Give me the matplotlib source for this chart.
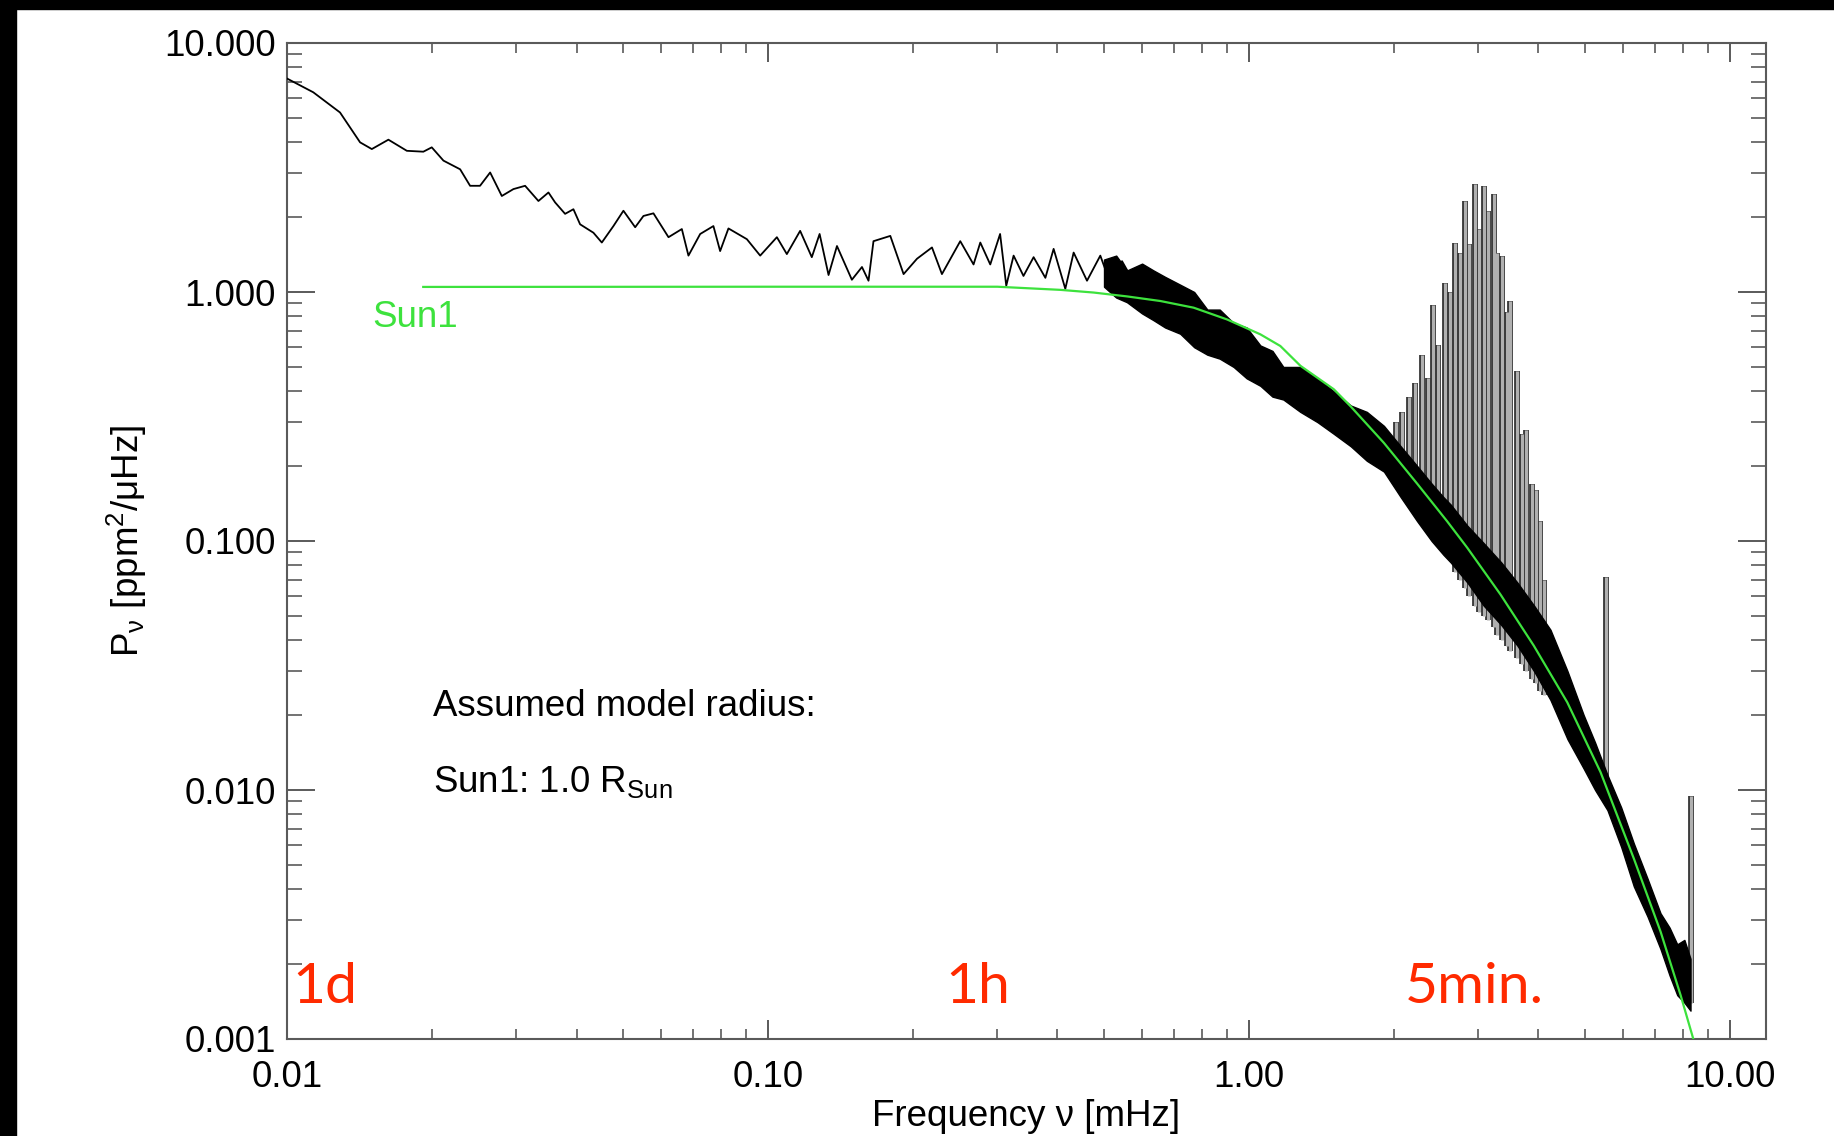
import matplotlib
matplotlib.use("Agg")
import matplotlib.pyplot as plt
from matplotlib.patches import Rectangle
from matplotlib.ticker import FormatStrFormatter, LogLocator, NullFormatter

# fonts
plt.rcParams['font.family'] = ['Liberation Sans', 'DejaVu Sans']
plt.rcParams['mathtext.fontset'] = 'custom'
plt.rcParams['mathtext.rm'] = 'Liberation Sans'
plt.rcParams['mathtext.it'] = 'Liberation Sans'

# Data (frequency in mHz, power in ppm^2/uHz)

# low-frequency part, single noisy line
line_f = [0.0100, 0.01014, 0.01134, 0.01289, 0.01419, 0.01501, 0.01625, 0.01775,
          0.01921, 0.02000, 0.02115, 0.02291, 0.02403, 0.02520, 0.02645, 0.02797,
          0.02957, 0.03127, 0.03333, 0.03497, 0.03610, 0.03787, 0.03941, 0.04069,
          0.04337, 0.04515, 0.04773, 0.05007, 0.05297, 0.05511, 0.05781, 0.06213,
          0.06623, 0.06836, 0.07231, 0.07704, 0.07956, 0.08279, 0.09042, 0.09638,
          0.1044, 0.1095, 0.1167, 0.1234, 0.1281, 0.1337, 0.1392, 0.1495,
          0.1569, 0.1619, 0.1658, 0.1797, 0.1915, 0.2042, 0.2194, 0.2301,
          0.2512, 0.2677, 0.2765, 0.2900, 0.3040, 0.3131, 0.3243, 0.3400,
          0.3569, 0.3776, 0.3928, 0.4154, 0.4323, 0.4609, 0.4912, 0.5236, 0.5450,
          0.5672, 0.595, 0.6234]
line_p = [7.2, 7.1, 6.34, 5.26, 3.99, 3.75, 4.09, 3.69,
          3.66, 3.81, 3.37, 3.11, 2.67, 2.67, 3.02, 2.43,
          2.59, 2.67, 2.32, 2.51, 2.29, 2.06, 2.15, 1.87,
          1.73, 1.58, 1.84, 2.12, 1.82, 2.02, 2.07, 1.66,
          1.79, 1.40, 1.71, 1.84, 1.46, 1.80, 1.63, 1.40,
          1.66, 1.42, 1.76, 1.38, 1.71, 1.17, 1.53, 1.12,
          1.26, 1.11, 1.60, 1.68, 1.18, 1.36, 1.51, 1.18,
          1.60, 1.29, 1.58, 1.29, 1.71, 1.06, 1.40, 1.16,
          1.38, 1.14, 1.49, 1.03, 1.44, 1.11, 1.40, 0.995, 1.33,
          1.16, 1.06, 1.22]

# high-frequency part, dense band (upper / lower envelope)
band_f = [0.50, 0.53, 0.558, 0.60, 0.634, 0.67, 0.72, 0.77, 0.82, 0.87, 0.93, 0.99,
          1.057, 1.12, 1.18, 1.28, 1.39, 1.50, 1.63, 1.76, 1.91, 2.07, 2.24, 2.40,
          2.54, 2.63, 2.85, 3.08, 3.35, 3.62, 3.92, 4.24, 4.60, 4.97, 5.25, 5.57,
          5.95, 6.32, 6.75, 7.18, 7.50, 7.78, 8.05, 8.29]
band_hi = [1.35, 1.40, 1.22, 1.30, 1.22, 1.15, 1.07, 1.00, 0.85, 0.85, 0.75, 0.72,
           0.61, 0.58, 0.50, 0.50, 0.45, 0.40, 0.35, 0.33, 0.29, 0.24, 0.20, 0.17,
           0.15, 0.14, 0.115, 0.098, 0.082, 0.068, 0.055, 0.044, 0.030, 0.020, 0.0155, 0.0115,
           0.0085, 0.0061, 0.0044, 0.0032, 0.0028, 0.0024, 0.0025, 0.0021]
band_lo = [1.05, 0.95, 0.91, 0.82, 0.77, 0.72, 0.68, 0.60, 0.56, 0.54, 0.50, 0.45,
           0.42, 0.38, 0.37, 0.33, 0.30, 0.27, 0.24, 0.21, 0.19, 0.15, 0.12, 0.10,
           0.088, 0.082, 0.068, 0.055, 0.046, 0.038, 0.030, 0.023, 0.016, 0.0122, 0.0100, 0.0083,
           0.0059, 0.0041, 0.0031, 0.0023, 0.0018, 0.0015, 0.0014, 0.0013]

# p-mode peaks and the two spikes
peak_f = [1.95, 2.02, 2.08, 2.15, 2.22, 2.29, 2.36, 2.42, 2.48, 2.56, 2.62, 2.69,
          2.75, 2.82, 2.87, 2.96, 3.01, 3.09, 3.14, 3.23, 3.29, 3.36, 3.45, 3.50,
          3.62, 3.70, 3.78, 3.89, 3.95, 4.04, 4.11, 5.54, 8.29]
peak_top = [0.26, 0.30, 0.33, 0.38, 0.43, 0.56, 0.45, 0.89, 0.61, 1.09, 1.00, 1.58,
            1.44, 2.32, 1.56, 2.71, 1.79, 2.67, 2.12, 2.47, 1.44, 1.40, 0.83, 0.92,
            0.48, 0.27, 0.28, 0.17, 0.16, 0.12, 0.07, 0.072, 0.0095]
peak_base = [0.20, 0.19, 0.18, 0.16, 0.14, 0.13, 0.12, 0.11, 0.10, 0.09, 0.085, 0.075,
             0.07, 0.065, 0.06, 0.055, 0.052, 0.05, 0.048, 0.045, 0.042, 0.04, 0.038, 0.036,
             0.034, 0.032, 0.03, 0.028, 0.027, 0.025, 0.024, 0.0095, 0.0014]

# model Sun1
model_f = [0.0192, 0.1, 0.3, 0.4056, 0.4757, 0.5583, 0.655, 0.768, 0.901, 1.057, 1.163,
           1.281, 1.502, 1.627, 1.909, 2.239, 2.585, 2.846, 3.337, 3.914, 4.595, 5.388,
           6.321, 7.183, 7.906, 8.428, 8.55]
model_p = [1.048, 1.05, 1.05, 1.02, 0.995, 0.96, 0.92, 0.865, 0.776, 0.676, 0.607,
           0.505, 0.407, 0.348, 0.248, 0.170, 0.120, 0.094, 0.061, 0.038, 0.0225, 0.0118,
           0.0053, 0.0027, 0.0015, 0.00098, 0.00092]

yticks = [0.001, 0.01, 0.1, 1, 10]
xticks = [0.01, 0.1, 1, 10]

green = "#3de23d"
red = "#ff2a00"
axcol = "#5a5a5a"

# Figure
fig = plt.figure(figsize=(18.34, 11.36), dpi=100)
fig.patch.set_facecolor("white")
ax = fig.add_axes([287/1834, 97/1136, 1479/1834, 996/1136])

ax.vlines(peak_f, peak_base, peak_top, colors="#3a3a3a", linewidth=4.2, zorder=2)
ax.vlines(peak_f, peak_base, peak_top, colors="#b0b0b0", linewidth=2.2, zorder=2)
ax.fill_between(band_f, band_lo, band_hi, color="black", linewidth=1.0, zorder=3)
ax.plot(line_f, line_p, color="black", linewidth=1.3, zorder=3)
ax.plot(model_f, model_p, color=green, linewidth=1.6, zorder=4)

ax.set_xscale("log")
ax.set_yscale("log")
ax.set_xlim(0.01, 11.9)
ax.set_ylim(0.001, 10)

ax.set_xticks(xticks)
ax.set_yticks(yticks)
ax.xaxis.set_major_formatter(FormatStrFormatter("%.2f"))
ax.yaxis.set_major_formatter(FormatStrFormatter("%.3f"))
ax.xaxis.set_minor_locator(LogLocator(base=10, subs=range(2, 10)))
ax.yaxis.set_minor_locator(LogLocator(base=10, subs=range(2, 10)))
ax.xaxis.set_minor_formatter(NullFormatter())
ax.yaxis.set_minor_formatter(NullFormatter())

ax.tick_params(which="both", direction="in", top=True, right=True, color=axcol, labelsize=26.5)
ax.tick_params(axis="y", which="major", length=20, width=1.4, pad=8)
ax.tick_params(axis="y", which="minor", length=11, width=1.2)
ax.tick_params(axis="x", which="major", length=14, width=1.4, pad=15)
ax.tick_params(axis="x", which="minor", length=7.5, width=1.2)
for s in ax.spines.values():
    s.set_color(axcol)
    s.set_linewidth(1.5)

ax.set_xlabel("Frequency ν [mHz]", fontsize=26.5)
ax.set_ylabel(r"P$_\mathrm{\nu}$ [ppm$^2$/μHz]", fontsize=26.5)
ax.xaxis.set_label_coords(0.5, -0.06)
ax.yaxis.set_label_coords(-0.093, 0.5)

# annotations
ax.text(0.01503, 0.79, "Sun1", color=green, fontsize=26.5, va="center", ha="left")
ax.text(0.0201, 0.0198, "Assumed model radius:", fontsize=26.4, va="baseline", ha="left")
ax.text(0.0201, 0.00986, r"Sun1: 1.0 R$_\mathrm{Sun}$", fontsize=26.4, va="baseline", ha="left")
for lab, f in [("1d", 0.01024), ("1h", 0.2338), ("5min.", 2.107)]:
    ax.text(f, 0.0014, lab, color=red, fontsize=41, family="Lato", va="baseline", ha="left")

# black frame strips of the screenshot
fig.add_artist(Rectangle((0, 1 - 9/1136), 1, 9/1136, transform=fig.transFigure, color="black"))
fig.add_artist(Rectangle((0, 0), 16/1834, 1, transform=fig.transFigure, color="black"))

fig.savefig("out.png", dpi=100, facecolor=fig.get_facecolor())
